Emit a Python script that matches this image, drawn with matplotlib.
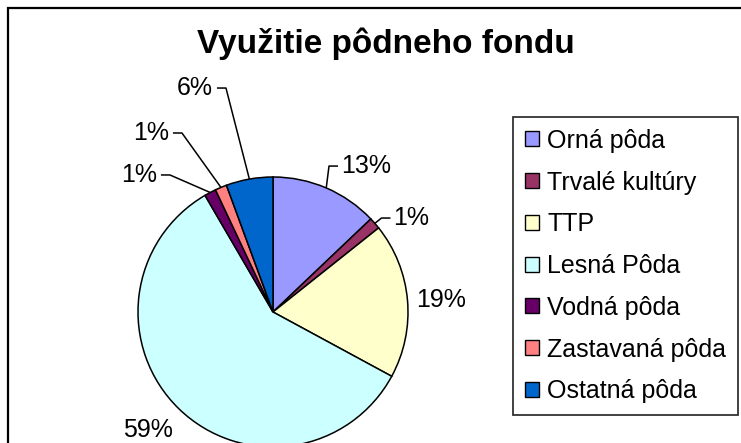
import numpy as np
import matplotlib as mpl
import matplotlib.pyplot as plt
from matplotlib.patches import Patch, Rectangle

# Land use shares (%), clockwise from 12 o'clock
categories = ['Orná pôda', 'Trvalé kultúry', 'TTP', 'Lesná Pôda',
              'Vodná pôda', 'Zastavaná pôda', 'Ostatná pôda']
shares = [12.9, 1.4, 18.6, 58.7, 1.4, 1.4, 5.6]
colors = ['#9999FF', '#993366', '#FFFFCC', '#CCFFFF',
          '#660066', '#FF8080', '#0066CC']

# label placement (text centre, pie radius units) and leader flag
label_pos = [(0.689, 1.081), (1.026, 0.696), (1.244, 0.089), (-0.926, -0.874),
             (-0.993, 1.015), (-0.904, 1.326), (-0.578, 1.659)]
leader = [True, True, False, False, True, True, True]

mpl.rcParams['font.family'] = ['Liberation Sans', 'DejaVu Sans']

W, H, dpi = 741, 443, 100
fig = plt.figure(figsize=(W/dpi, H/dpi), dpi=dpi)
ax = fig.add_axes([0, 0, 1, 1])

cx, cy, R = 273, 312, 135  # pie centre / radius in pixels
wedges, _ = ax.pie(shares, colors=colors, startangle=90, counterclock=False,
                   wedgeprops={'edgecolor': 'black', 'linewidth': 1.1})
ax.set_xlim(-cx/R, (W-cx)/R)
ax.set_ylim(-(H-cy)/R, cy/R)
ax.set_aspect('equal')
ax.axis('off')

texts = []
for v, (lx, ly) in zip(shares, label_pos):
    texts.append(ax.text(lx, ly, '%.0f%%' % v, ha='center', va='center',
                         fontsize=18, color='black'))

fig.canvas.draw()
rend = fig.canvas.get_renderer()
px = 1.0/R
for w, t, has in zip(wedges, texts, leader):
    if not has:
        continue
    ang = np.deg2rad((w.theta1 + w.theta2)/2)
    ex, ey = np.cos(ang), np.sin(ang)
    bb = t.get_window_extent(rend).transformed(ax.transData.inverted())
    lx, ly = t.get_position()
    if lx > 0:
        x1 = bb.x0 - 3*px
        x0 = x1 - 9*px
    else:
        x1 = bb.x1 + 4*px
        x0 = x1 + 9*px
    ax.plot([ex, x0, x1], [ey, ly, ly], color='black', lw=1.1,
            solid_capstyle='butt')

fig.text(386/W, 1-44/H, 'Využitie pôdneho fondu', ha='center', va='center',
         fontsize=24, fontweight='bold')

handles = [Patch(facecolor=c, edgecolor='black', linewidth=1.0) for c in colors]
leg = fig.legend(handles, categories, loc='upper left',
                 bbox_to_anchor=(513/W, 1-117/H), borderaxespad=0,
                 fontsize=18, frameon=True, fancybox=False,
                 handlelength=0.55, handleheight=0.55, handletextpad=0.35,
                 labelspacing=0.71, borderpad=0.47)
leg.get_frame().set_edgecolor('black')
leg.get_frame().set_linewidth(1.3)

# chart area border (cropped on right and bottom)
fig.patches.append(Rectangle((8/W, -0.1), 1.2, 1.1 - 7.5/H,
                             transform=fig.transFigure, fill=False,
                             edgecolor='black', linewidth=1.6, clip_on=False))

fig.savefig('out.png', dpi=dpi)
